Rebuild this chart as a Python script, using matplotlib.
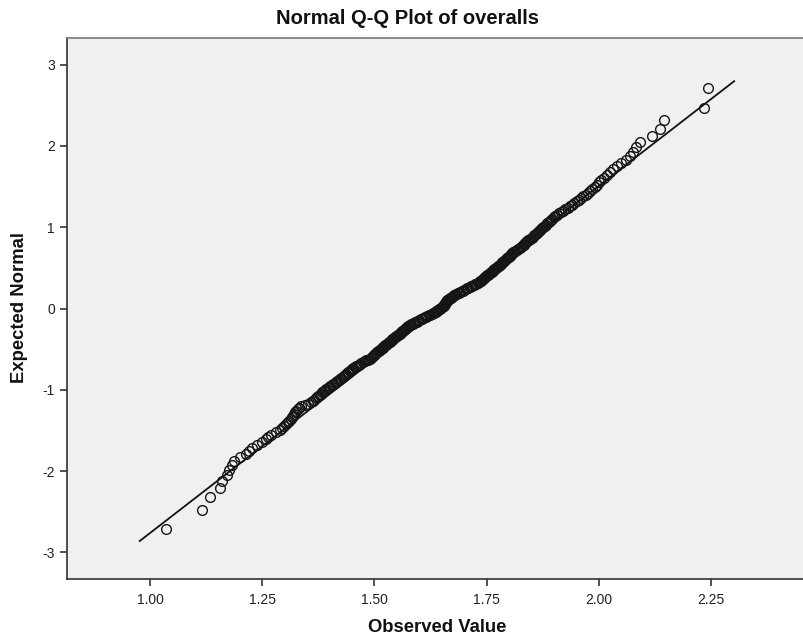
import matplotlib
matplotlib.use("Agg")
import matplotlib.pyplot as plt
from statistics import NormalDist

plt.rcParams['font.family'] = ['Liberation Sans', 'DejaVu Sans']

title = "Normal Q-Q Plot of overalls"
x_label = "Observed Value"
y_label = "Expected Normal"

observed = [
    1.035, 1.116, 1.134, 1.157, 1.161, 1.172, 1.177, 1.183, 1.187, 1.200,
    1.214, 1.221, 1.228, 1.238, 1.250, 1.258, 1.263, 1.270, 1.280, 1.290,
    1.294, 1.298, 1.303, 1.307, 1.310, 1.313, 1.316, 1.319, 1.321, 1.323,
    1.326, 1.329, 1.332, 1.336, 1.345, 1.352, 1.358, 1.362, 1.366, 1.369,
    1.372, 1.375, 1.378, 1.381, 1.384, 1.387, 1.390, 1.393, 1.396, 1.399,
    1.402, 1.405, 1.408, 1.411, 1.414, 1.417, 1.420, 1.423, 1.426, 1.429,
    1.432, 1.435, 1.437, 1.440, 1.442, 1.445, 1.447, 1.450, 1.453, 1.456,
    1.459, 1.462, 1.465, 1.468, 1.471, 1.474, 1.478, 1.482, 1.486, 1.490,
    1.492, 1.494, 1.496, 1.498, 1.500, 1.502, 1.504, 1.506, 1.508, 1.510,
    1.512, 1.514, 1.516, 1.518, 1.520, 1.522, 1.524, 1.526, 1.528, 1.530,
    1.532, 1.534, 1.536, 1.538, 1.540, 1.542, 1.544, 1.546, 1.548, 1.550,
    1.552, 1.554, 1.556, 1.558, 1.560, 1.561, 1.563, 1.565, 1.567, 1.569,
    1.571, 1.573, 1.575, 1.577, 1.579, 1.582, 1.585, 1.588, 1.591, 1.594,
    1.597, 1.600, 1.603, 1.606, 1.609, 1.612, 1.615, 1.618, 1.621, 1.624,
    1.627, 1.630, 1.633, 1.636, 1.638, 1.640, 1.642, 1.644, 1.646,
    1.648, 1.650, 1.652, 1.654, 1.655, 1.656, 1.657, 1.658, 1.659,
    1.660, 1.661, 1.662, 1.664, 1.666, 1.668, 1.670, 1.672, 1.674, 1.676,
    1.679, 1.682, 1.685, 1.688, 1.691, 1.694, 1.697, 1.700, 1.703, 1.706,
    1.709, 1.712, 1.715, 1.718, 1.721, 1.724, 1.727, 1.730, 1.733, 1.735,
    1.737, 1.739, 1.741, 1.743, 1.745, 1.747, 1.749, 1.751, 1.753, 1.755,
    1.757, 1.759, 1.761, 1.763, 1.765, 1.767, 1.769, 1.771, 1.773, 1.775,
    1.777, 1.779, 1.781, 1.783, 1.785, 1.787, 1.789, 1.791, 1.793, 1.795,
    1.797, 1.799, 1.801, 1.803, 1.805, 1.807, 1.809, 1.811, 1.814, 1.817,
    1.820, 1.823, 1.826, 1.829, 1.832, 1.834, 1.836, 1.838, 1.840, 1.842,
    1.844, 1.847, 1.850, 1.853, 1.856, 1.859, 1.862, 1.864, 1.866, 1.868,
    1.870, 1.873, 1.876, 1.879, 1.882, 1.885, 1.888, 1.891, 1.894, 1.896,
    1.899, 1.903, 1.907, 1.911, 1.915, 1.920, 1.925, 1.930, 1.935, 1.940,
    1.945, 1.950, 1.955, 1.960, 1.965, 1.970, 1.975, 1.980, 1.985, 1.990,
    1.995, 2.000, 2.005, 2.011, 2.017, 2.024, 2.032, 2.040, 2.050, 2.060,
    2.068, 2.076, 2.082, 2.091, 2.117, 2.136, 2.145, 2.2345, 2.242,
]

# Reference line parameters (mean, sd)
fit_mean = 1.6465
fit_sd = 0.2341

x_ticks = [1.00, 1.25, 1.50, 1.75, 2.00, 2.25]
x_tick_labels = ["1.00", "1.25", "1.50", "1.75", "2.00", "2.25"]
y_ticks = [-3, -2, -1, 0, 1, 2, 3]
y_tick_labels = ["-3", "-2", "-1", "0", "1", "2", "3"]

# Expected normal values from ranks
obs_sorted = sorted(observed)
n = len(obs_sorted)
nd = NormalDist()
expected = [nd.inv_cdf((i + 1) / (n + 1)) for i in range(n)]

fig = plt.figure(figsize=(8.04, 6.39), dpi=100)
fig.patch.set_facecolor('white')
ax = fig.add_axes([67.3 / 804, 1 - 579 / 639, 1 - 67.3 / 804, (579 - 37.7) / 639])
ax.set_facecolor('#f0f0f0')

rng = obs_sorted[-1] - obs_sorted[0]
lx0 = obs_sorted[0] - 0.048 * rng
lx1 = obs_sorted[-1] + 0.049 * rng
ax.plot([lx0, lx1], [(lx0 - fit_mean) / fit_sd, (lx1 - fit_mean) / fit_sd],
        color='#111111', lw=1.3, zorder=2)
ax.plot(obs_sorted, expected, linestyle='none', marker='o', markersize=7.0,
        markerfacecolor='none', markeredgecolor='#151515', markeredgewidth=1.0,
        zorder=3)

ax.set_xlim(0.8158, 2.4566)
ax.set_ylim(-3.327, 3.331)
ax.set_xticks(x_ticks)
ax.set_xticklabels(x_tick_labels)
ax.set_yticks(y_ticks)
ax.set_yticklabels(y_tick_labels)
ax.tick_params(axis='both', direction='out', length=5, width=1.2,
               color='#333333', labelsize=10, labelcolor='#222222')
ax.tick_params(axis='x', pad=5)
ax.tick_params(axis='y', pad=4)

for s in ['left', 'bottom']:
    ax.spines[s].set_color('#333333')
    ax.spines[s].set_linewidth(1.2)
ax.spines['top'].set_color('#777777')
ax.spines['top'].set_linewidth(1.2)
ax.spines['right'].set_visible(False)

fig.text(408 / 804, 1 - 18 / 639, title, ha='center', va='center',
         fontsize=14.5, fontweight='bold', color='#111111')
fig.text(437 / 804, 1 - 628 / 639, x_label, ha='center', va='center',
         fontsize=13.3, fontweight='bold', color='#111111')
fig.text(20 / 804, 1 - 308 / 639, y_label, ha='center', va='center',
         rotation=90, fontsize=13.3, fontweight='bold', color='#111111')

fig.savefig('out.png', dpi=100)
